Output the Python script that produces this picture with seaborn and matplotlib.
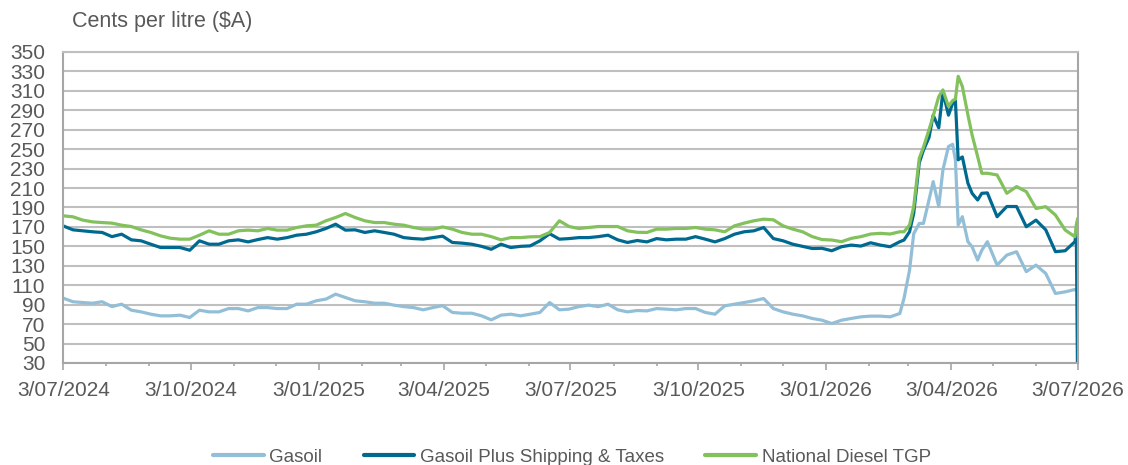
import pandas as pd
import matplotlib
matplotlib.use("Agg")
import matplotlib.pyplot as plt
import matplotlib.dates as mdates
from matplotlib.ticker import FuncFormatter
import seaborn as sns

# weekly readings 3/07/2024 .. 25/02/2026, then denser readings through the spike
weekly_dates = pd.date_range("2024-07-03", periods=87, freq="7D")
spike_dates = pd.to_datetime([
    "2026-02-28", "2026-03-04", "2026-03-07", "2026-03-11", "2026-03-14", "2026-03-18",
    "2026-03-21", "2026-03-25", "2026-03-28", "2026-04-01", "2026-04-04", "2026-04-06",
    "2026-04-08", "2026-04-11", "2026-04-15", "2026-04-18", "2026-04-22", "2026-04-25",
    "2026-04-29", "2026-05-06", "2026-05-13", "2026-05-20", "2026-05-27", "2026-06-03",
    "2026-06-10", "2026-06-17", "2026-06-24", "2026-07-01", "2026-07-02", "2026-07-03",
])

gasoil = [
    96.7, 93.0, 92.2, 91.5, 93.0, 88.0, 90.5, 84.3, 82.6, 80.2, 78.5, 78.5, 79.2, 76.8,
    84.3, 82.6, 82.6, 86.0, 86.0, 83.6, 87.0, 87.0, 86.0, 86.0, 90.5, 90.5, 94.0, 95.7,
    100.8, 97.4, 94.0, 93.0, 91.5, 91.5, 89.5, 88.0, 87.0, 84.7, 87.0, 89.0, 82.0, 81.2,
    81.2, 78.5, 74.4, 79.2, 80.2, 78.5, 80.2, 82.0, 92.2, 84.7, 85.4, 88.0, 89.5, 88.0,
    90.5, 84.7, 82.6, 84.0, 83.6, 86.0, 85.4, 84.7, 86.0, 86.0, 82.0, 80.2, 88.8, 90.5,
    92.2, 94.0, 96.3, 86.0, 82.6, 80.2, 78.5, 75.8, 74.0, 70.6, 74.0, 75.8, 77.5, 78.2,
    78.2, 77.5, 80.9,
    96.4, 125.5, 163.0, 173.6, 173.6, 197.8, 216.6, 191.0, 228.6, 252.7, 255.0, 239.0,
    172.0, 180.5, 154.8, 149.6, 135.9, 146.0, 154.8, 130.7, 141.0, 144.5, 124.0, 130.7,
    122.1, 101.5, 103.2, 105.6, 104.9, 104.9,
]
gasoil_plus = [
    171.0, 167.0, 166.0, 165.0, 164.3, 160.0, 162.5, 156.7, 155.7, 152.2, 148.8, 148.8,
    148.8, 146.0, 155.7, 152.2, 152.2, 155.7, 156.7, 154.6, 157.0, 159.0, 157.4, 159.0,
    161.5, 162.5, 165.0, 168.4, 172.8, 166.7, 167.0, 164.3, 166.0, 164.3, 162.5, 159.0,
    158.0, 157.4, 159.0, 160.5, 154.0, 153.3, 152.2, 150.0, 147.0, 152.2, 148.8, 150.0,
    150.5, 155.7, 163.0, 157.4, 158.0, 159.0, 159.0, 160.0, 161.5, 156.7, 154.0, 156.0,
    154.6, 158.0, 156.7, 157.4, 157.4, 160.0, 157.4, 154.6, 158.0, 162.5, 165.0, 166.0,
    169.4, 158.0, 155.7, 152.2, 150.0, 147.8, 148.0, 145.5, 149.6, 151.3, 150.3, 153.7,
    151.3, 149.6, 154.8,
    156.5, 165.0, 184.0, 236.0, 249.0, 262.0, 285.0, 272.0, 309.0, 285.0, 297.0, 300.0,
    239.0, 242.0, 215.0, 204.6, 197.7, 204.6, 205.0, 180.5, 191.0, 191.0, 170.2, 177.0,
    167.0, 144.5, 145.5, 154.8, 165.0, 0.0,
]
diesel_tgp = [
    181.4, 180.4, 177.0, 175.2, 174.5, 173.9, 171.8, 170.4, 167.0, 164.3, 160.8, 158.4,
    157.4, 157.4, 161.5, 166.0, 162.5, 162.5, 166.0, 166.7, 166.0, 168.4, 166.7, 166.7,
    169.4, 171.1, 171.8, 176.3, 179.7, 183.8, 179.7, 176.3, 174.5, 174.5, 172.8, 171.8,
    169.4, 167.7, 167.7, 170.0, 167.7, 164.3, 162.5, 162.5, 160.0, 156.7, 159.0, 159.0,
    159.8, 160.0, 164.3, 176.3, 170.4, 168.4, 169.4, 170.4, 170.4, 170.4, 166.0, 164.5,
    164.3, 167.7, 167.7, 168.4, 168.4, 169.4, 167.7, 167.0, 165.0, 171.1, 173.9, 176.3,
    178.0, 177.3, 171.1, 167.7, 165.0, 160.0, 157.0, 156.5, 154.8, 158.2, 160.0, 162.7,
    163.4, 162.7, 165.0,
    165.0, 172.0, 191.0, 240.7, 252.0, 270.0, 284.0, 304.0, 311.0, 294.0, 300.0, 301.5,
    325.0, 314.5, 285.3, 264.7, 242.4, 225.2, 225.2, 223.5, 204.6, 211.5, 206.3, 189.0,
    190.8, 182.2, 166.8, 159.9, 172.0, 178.8,
]

series_names = ["Gasoil", "Gasoil Plus Shipping & Taxes", "National Diesel TGP"]
colors = ["#92BFD7", "#006990", "#82C15C"]

dates = list(weekly_dates) + list(spike_dates)
frames = []
for name, vals in zip(series_names, [gasoil, gasoil_plus, diesel_tgp]):
    frames.append(pd.DataFrame({"date": dates, "value": vals, "series": name}))
df = pd.concat(frames, ignore_index=True)

sns.set_theme(style="white")
plt.rcParams["font.family"] = ["Liberation Sans", "DejaVu Sans"]
text_col = "#595959"

fig = plt.figure(figsize=(11.28, 4.65), dpi=100)
ax = fig.add_axes([0.0561, 0.2194, 0.8993, 0.6688])

sns.lineplot(data=df, x="date", y="value", hue="series", hue_order=series_names,
             palette=colors, estimator=None, sort=False, linewidth=2.3, ax=ax)

ax.set_ylim(30, 350)
ax.set_yticks(range(30, 351, 20))
ax.set_xlim(pd.Timestamp("2024-07-03"), pd.Timestamp("2026-07-03"))
ax.xaxis.set_major_locator(mdates.MonthLocator(bymonth=[1, 4, 7, 10], bymonthday=3))
ax.xaxis.set_minor_locator(mdates.MonthLocator(bymonthday=3))
ax.xaxis.set_major_formatter(FuncFormatter(
    lambda v, p: "{}/{:02d}/{}".format(mdates.num2date(v).day, mdates.num2date(v).month,
                                        mdates.num2date(v).year)))
ax.set_xlabel("")
ax.set_ylabel("")

ax.grid(axis="y", color="#BFBFBF", linewidth=1.5)
ax.set_axisbelow(True)
for side in ["left", "right", "bottom", "top"]:
    ax.spines[side].set_color("#A6A6A6")
    ax.spines[side].set_linewidth(1.5)
ax.spines["top"].set_color("#BFBFBF")

ax.tick_params(axis="y", length=0, pad=13, labelsize=15, labelcolor=text_col)
ax.tick_params(axis="x", which="major", direction="out", length=5, width=1.2,
               color="#A6A6A6", pad=8, labelsize=15, labelcolor=text_col, bottom=True)
ax.tick_params(axis="x", which="minor", direction="out", length=2.5, width=1.2,
               color="#A6A6A6", bottom=True)

fig.text(72 / 1128, 1 - 22 / 465, "Cents per litre ($A)", fontsize=15.5,
         color=text_col, ha="left", va="center")

handles, labels = ax.get_legend_handles_labels()
ax.get_legend().remove()
for h in handles:
    h.set_linewidth(3)
fig.legend(handles, labels, loc="center", bbox_to_anchor=(572 / 1128, 1 - 457 / 465),
           ncol=3, frameon=False, fontsize=13.5, handlelength=2.7, handletextpad=0.3,
           columnspacing=2.2, labelcolor=text_col)

fig.savefig("out.png", dpi=100)
